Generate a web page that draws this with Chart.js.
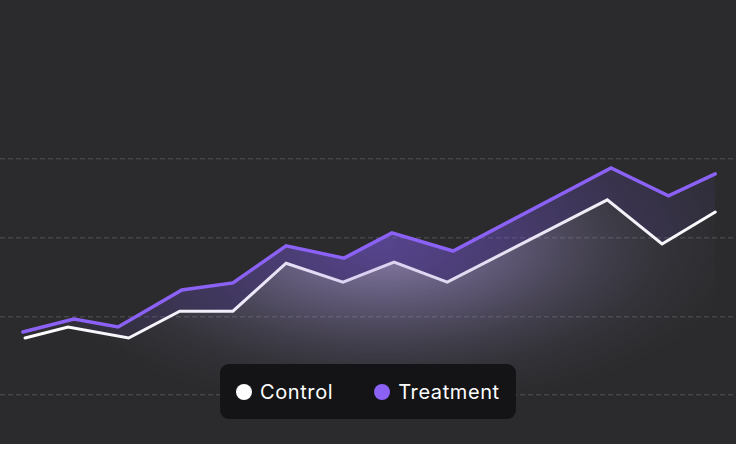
<!DOCTYPE html>
<html>
<head>
<meta charset="utf-8">
<script src="https://cdn.jsdelivr.net/npm/chart.js@4.4.1/dist/chart.umd.min.js"></script>
<style>
  html, body { margin: 0; padding: 0; background: #ffffff; }
  #wrap { position: relative; width: 736px; height: 444px; background: #2b2b2d; }
  #legend {
    position: absolute; left: 220px; top: 364px; width: 296px; height: 55px;
    background: #141416; border-radius: 9px; display: flex; align-items: center;
    font-family: Inter, "DejaVu Sans", sans-serif; font-size: 20px; letter-spacing: 0.6px;
    color: #ffffff; box-sizing: border-box; padding-left: 16px; padding-top: 1px;
  }
  .item { display: flex; align-items: center; margin-right: 41px; }
  .dot { width: 16px; height: 16px; border-radius: 50%; margin-right: 8px; }
</style>
</head>
<body>
<div id="wrap">
  <canvas id="chart" width="736" height="444"></canvas>
  <div id="legend"></div>
</div>
<script>
(() => {
  // Data
  const seriesNames = ['Control', 'Treatment'];
  const controlX = [0.04, 0.85, 1.99, 2.95, 3.95, 4.95, 6.02, 6.98, 7.98, 10.99, 12.02, 13.02];
  const controlY = [34.5, 37.3, 34.5, 41.3, 41.3, 53.5, 48.7, 53.8, 48.7, 69.6, 58.4, 66.5];
  const treatmentX = [0, 0.96, 1.79, 2.99, 3.95, 4.95, 6.04, 6.94, 8.09, 11.06, 12.14, 13.02];
  const treatmentY = [36.0, 39.3, 37.3, 46.7, 48.5, 57.9, 54.8, 61.2, 56.6, 77.7, 70.6, 76.2];
  const yGridTicks = [20, 40, 60, 80];

  const toPoints = (xs, ys) => xs.map((x, i) => ({ x, y: ys[i] }));

  // Elliptical glow, drawn once into an offscreen canvas and used as a pattern
  const cache = {};
  const glow = (key, cxF, cyF, rxF, ryF, stops) => (ctx) => {
    const chart = ctx.chart;
    const area = chart.chartArea;
    if (!area) return 'transparent';
    if (cache[key]) return cache[key];
    const off = document.createElement('canvas');
    off.width = chart.width;
    off.height = chart.height;
    const o = off.getContext('2d');
    const cx = area.left + area.width * cxF;
    const cy = area.top + area.height * cyF;
    const rx = area.width * rxF;
    const ry = area.height * ryF;
    o.save();
    o.translate(cx, cy);
    o.scale(1, ry / rx);
    const g = o.createRadialGradient(0, 0, 0, 0, 0, rx);
    stops.forEach(([s, col]) => g.addColorStop(s, col));
    o.fillStyle = g;
    o.fillRect(-cx, -cy / (ry / rx), off.width, off.height / (ry / rx));
    o.restore();
    cache[key] = chart.ctx.createPattern(off, 'no-repeat');
    return cache[key];
  };

  const controlStroke = (ctx) => {
    const area = ctx.chart.chartArea;
    if (!area) return '#ffffff';
    const g = ctx.chart.ctx.createLinearGradient(area.left, 0, area.right, 0);
    g.addColorStop(0, '#ffffff');
    g.addColorStop(0.3, '#f2eefa');
    g.addColorStop(0.5, '#d9d0f0');
    g.addColorStop(0.75, '#ebe7f3');
    g.addColorStop(1, '#ffffff');
    return g;
  };

  const chart = new Chart(document.getElementById('chart'), {
    type: 'line',
    data: {
      datasets: [
        {
          label: seriesNames[0],
          data: toPoints(controlX, controlY),
          borderColor: controlStroke,
          borderWidth: 3,
          pointRadius: 0,
          tension: 0,
          borderCapStyle: 'round',
          fill: 'start',
          backgroundColor: glow('c', 0.52, 0.55, 0.5, 0.38, [
            [0, 'rgba(195,175,245,0.66)'],
            [0.4, 'rgba(160,145,210,0.38)'],
            [0.75, 'rgba(125,115,155,0.12)'],
            [1, 'rgba(100,95,120,0)'],
          ]),
          legendColor: '#ffffff',
        },
        {
          label: seriesNames[1],
          data: toPoints(treatmentX, treatmentY),
          borderColor: '#8b62f5',
          borderWidth: 3.5,
          pointRadius: 0,
          tension: 0,
          borderCapStyle: 'round',
          fill: '-1',
          backgroundColor: glow('t', 0.52, 0.55, 0.52, 0.45, [
            [0, 'rgba(125,90,225,0.54)'],
            [0.5, 'rgba(115,85,210,0.3)'],
            [1, 'rgba(100,80,170,0.05)'],
          ]),
          legendColor: '#8b62f5',
        },
      ],
    },
    options: {
      responsive: false,
      animation: false,
      layout: { padding: 0 },
      plugins: { legend: { display: false }, tooltip: { enabled: false } },
      scales: {
        x: {
          type: 'linear',
          min: -0.43,
          max: 13.41,
          display: false,
        },
        y: {
          min: 7.55,
          max: 120.4,
          afterBuildTicks: (s) => { s.ticks = yGridTicks.map((v) => ({ value: v })); },
          ticks: { display: false },
          grid: { color: 'rgba(255,255,255,0.13)', lineWidth: 1.5, drawTicks: false },
          border: { display: false, dash: [5, 3] },
        },
      },
    },
  });

  // HTML legend
  const legend = document.getElementById('legend');
  chart.data.datasets.forEach((ds) => {
    const item = document.createElement('div');
    item.className = 'item';
    item.innerHTML = `<span class="dot" style="background:${ds.legendColor}"></span><span>${ds.label}</span>`;
    legend.appendChild(item);
  });
})();
</script>
</body>
</html>
